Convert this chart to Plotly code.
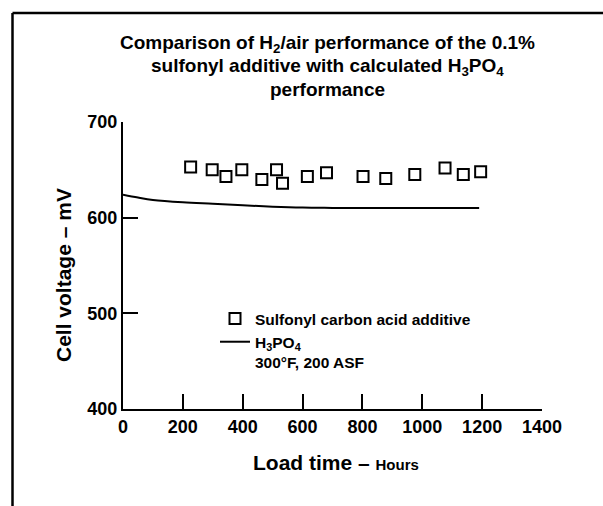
import plotly.graph_objects as go

# Data
additive_hours = [226, 298, 344, 397, 464, 513, 533, 616, 680, 802, 878, 975, 1076, 1137, 1195]
additive_mv = [653, 650, 643, 650, 640, 650, 636, 643, 647, 643, 641, 645, 652, 645, 648]

h3po4_hours = [0, 50, 100, 200, 300, 400, 500, 600, 700, 800, 1000, 1190]
h3po4_mv = [624, 621, 618.5, 616, 614.5, 613, 611.5, 610.5, 610.2, 610, 610, 610]

x_ticks = [0, 200, 400, 600, 800, 1000, 1200, 1400]
y_ticks = [400, 500, 600, 700]

FONT = "Liberation Sans, Arial, Helvetica, sans-serif"
W, H = 603, 506
L, R, T, B = 123, 61, 122, 97
PW, PH = W - L - R, H - T - B

def px(x):
    return (x - L) / PW

def py(y):
    return (H - B - y) / PH

fig = go.Figure()
fig.add_trace(go.Scatter(
    x=additive_hours, y=additive_mv, mode="markers",
    name="Sulfonyl carbon acid additive",
    marker=dict(symbol="square-open", size=11, color="black", line=dict(width=2, color="black")),
))
fig.add_trace(go.Scatter(
    x=h3po4_hours, y=h3po4_mv, mode="lines",
    name="H<sub>3</sub>PO<sub>4</sub><br>300°F, 200 ASF",
    line=dict(color="black", width=2, shape="spline"),
))

title_lines = [
    "Comparison of H<sub>2</sub>/air performance of the 0.1%",
    "sulfonyl additive with calculated H<sub>3</sub>PO<sub>4</sub>",
    "performance",
]
title_y = [44, 67, 89.5]
annotations = []
for t, yy in zip(title_lines, title_y):
    annotations.append(dict(text=t, x=px(327), y=py(yy), xref="paper", yref="paper",
                            xanchor="center", yanchor="middle", showarrow=False,
                            font=dict(family=FONT, size=19, color="black", weight="bold")))
annotations.append(dict(text="Load time – <span style='font-size:15px'>Hours</span>",
                        x=px(336), y=py(462), xref="paper", yref="paper",
                        xanchor="center", yanchor="middle", showarrow=False,
                        font=dict(family=FONT, size=21, color="black", weight="bold")))
annotations.append(dict(text="Cell voltage – mV", textangle=-90,
                        x=px(63), y=py(275), xref="paper", yref="paper",
                        xanchor="center", yanchor="middle", showarrow=False,
                        font=dict(family=FONT, size=21, color="black", weight="bold")))

shapes = [
    dict(type="line", xref="paper", yref="paper", x0=px(12.5), x1=px(W + 5), y0=py(13), y1=py(13),
         line=dict(color="black", width=2.5)),
    dict(type="line", xref="paper", yref="paper", x0=px(12.5), x1=px(12.5), y0=py(13), y1=py(H + 5),
         line=dict(color="black", width=2.5)),
]

fig.update_layout(
    width=W, height=H,
    margin=dict(l=L, r=R, t=T, b=B),
    paper_bgcolor="white", plot_bgcolor="white",
    font=dict(family=FONT, color="black", weight="bold"),
    showlegend=True,
    legend=dict(x=px(215), y=py(302), xanchor="left", yanchor="top",
                bgcolor="rgba(0,0,0,0)", font=dict(family=FONT, size=15.5, color="black", weight="bold"),
                valign="top", tracegroupgap=0),
    annotations=annotations,
    shapes=shapes,
)
fig.update_xaxes(range=[0, 1400], tickvals=x_ticks, ticks="inside", ticklen=15, tickwidth=2,
                 tickcolor="black", showline=True, linecolor="black", linewidth=2,
                 showgrid=False, zeroline=False,
                 tickfont=dict(family=FONT, size=18, color="black", weight="bold"))
fig.update_yaxes(range=[400, 700], tickvals=y_ticks, ticks="inside", ticklen=15, tickwidth=2,
                 tickcolor="black", showline=True, linecolor="black", linewidth=2,
                 showgrid=False, zeroline=False,
                 tickfont=dict(family=FONT, size=18, color="black", weight="bold"))

fig.write_html("out.html", config={"displayModeBar": False},
               post_script="document.body.style.margin='0';")
